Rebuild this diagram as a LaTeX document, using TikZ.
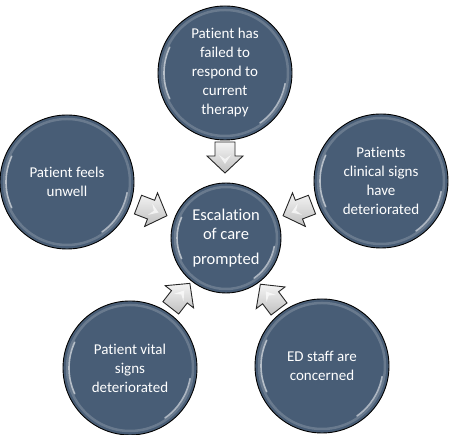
\documentclass[tikz,border=0pt]{standalone}
\usepackage{fontspec}
\setmainfont{Carlito}[Ligatures=NoCommon]
\definecolor{bub}{RGB}{72,93,118}
\newcommand\escarrow[2]{%
  \begin{scope}[shift={(#1)}, rotate=#2]
    \draw[arrowsty] (-15,-10) -- (-1,-10) -- (-1,-18) -- (16,0) -- (-1,18) -- (-1,10) -- (-15,10) -- cycle;
    \fill[white, opacity=.7] (-2,-6) -- (7,0) -- (-2,6) -- (2,0) -- cycle;
  \end{scope}}
\begin{document}
\begin{tikzpicture}[x=1pt,y=1pt,
  bubble/.style={circle, draw=black, line width=0.9pt, fill=bub, text=white,
    align=center, inner sep=0pt, font=\fontsize{15}{19}\selectfont},
  bigbub/.style={bubble, minimum size=134pt,
    path picture={
      \draw[white, opacity=.18, line width=2.5pt] (path picture bounding box.center) circle[radius=63];
      \draw[white, opacity=.6, line width=1.6pt, line cap=round] (path picture bounding box.center) ++(155:61) arc[start angle=155, end angle=205, radius=61];
      \draw[white, opacity=.55, line width=1.6pt, line cap=round] (path picture bounding box.center) ++(-55:61) arc[start angle=-55, end angle=-10, radius=61];
    }},
  smallbub/.style={bubble, minimum size=110pt, font=\fontsize{16.5}{19}\selectfont,
    path picture={
      \draw[white, opacity=.18, line width=2.5pt] (path picture bounding box.center) circle[radius=51];
      \draw[white, opacity=.6, line width=1.6pt, line cap=round] (path picture bounding box.center) ++(155:49) arc[start angle=155, end angle=205, radius=49];
      \draw[white, opacity=.55, line width=1.6pt, line cap=round] (path picture bounding box.center) ++(-55:49) arc[start angle=-55, end angle=-10, radius=49];
    }},
  arrowsty/.style={draw=black!85, line width=0.9pt, top color=gray!8, bottom color=gray!50, line join=miter}
]
\useasboundingbox (0,0) rectangle (450,435);

\node[smallbub] (C) at (226,197) {Escalation\\of care\\[6pt]prompted};
\node[bigbub] (T) at (225,362) {Patient has\\failed to\\respond to\\current\\therapy};
\node[bigbub] (L) at (67,253) {Patient feels\\unwell};
\node[bigbub] (R) at (381,254) {Patients\\clinical signs\\have\\deteriorated};
\node[bigbub] (BL) at (130,67) {Patient vital\\signs\\deteriorated};
\node[bigbub] (BR) at (322,69) {ED staff are\\concerned};

\coordinate (aT) at (225,278);
\coordinate (aL) at (152,225);
\coordinate (aR) at (298,225);
\coordinate (aBL) at (180,139);
\coordinate (aBR) at (270,138);

\escarrow{aT}{-90}
\escarrow{aL}{-21}
\escarrow{aR}{201}
\escarrow{aBL}{52}
\escarrow{aBR}{127}
\end{tikzpicture}
\end{document}
